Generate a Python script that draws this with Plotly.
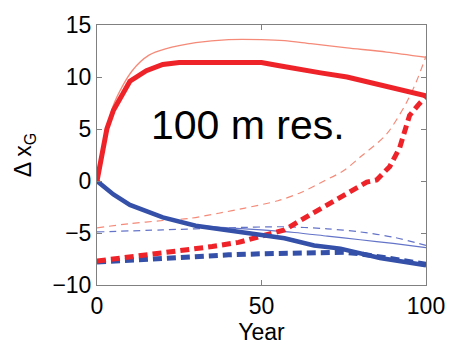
import plotly.graph_objects as go

# Thick red solid
red_thick_x = [0, 3, 5, 10, 15, 20, 25, 30, 40, 50, 55, 60, 68, 76, 86, 96, 100]
red_thick_y = [0, 5.0, 6.8, 9.6, 10.6, 11.2, 11.4, 11.4, 11.4, 11.4, 11.1, 10.8, 10.4, 10.0, 9.3, 8.5, 8.2]
# Thin red solid
red_thin_x = [0, 5, 10.7, 15.8, 20.8, 30, 40, 50, 57, 65, 76, 88, 100]
red_thin_y = [0, 7.3, 10.6, 12.1, 12.7, 13.3, 13.6, 13.6, 13.5, 13.2, 12.8, 12.4, 11.9]
# Thick red dashed
red_thickdash_x = [0, 10, 20, 28, 35, 43, 50, 57, 65, 74, 79, 82, 85, 89, 92, 95, 97.6, 100]
red_thickdash_y = [-7.7, -7.3, -7.0, -6.6, -6.3, -5.9, -5.3, -4.7, -3.2, -1.6, -0.6, -0.1, 0.1, 1.4, 3.2, 6.3, 7.3, 8.1]
# Thin red dashed
red_thindash_x = [0, 10, 20, 28, 37, 45, 55, 62, 69, 75, 80, 88, 94, 97, 100]
red_thindash_y = [-4.5, -4.1, -3.8, -3.6, -3.1, -2.6, -1.9, -1.1, 0.0, 1.0, 2.3, 4.5, 7.5, 9.5, 12.0]
# Thick blue solid
blue_thick_x = [0, 5, 10, 20, 30, 40, 50, 57, 66, 74, 86, 100]
blue_thick_y = [0, -1.3, -2.3, -3.5, -4.3, -4.8, -5.2, -5.5, -6.2, -6.5, -7.4, -8.1]
# Thin blue solid
blue_thin_x = [0, 5, 10, 20, 30, 40, 50, 60, 70, 80, 90, 100]
blue_thin_y = [0, -1.3, -2.3, -3.5, -4.25, -4.5, -4.7, -4.95, -5.3, -5.65, -6.0, -6.4]
# Thick blue dashed
blue_thickdash_x = [0, 10, 20, 30, 40, 50, 60, 75, 80, 90, 100]
blue_thickdash_y = [-7.8, -7.6, -7.4, -7.25, -7.1, -7.0, -6.9, -6.85, -7.0, -7.5, -8.0]
# Thin blue dashed
blue_thindash_x = [0, 20, 40, 57, 70, 80, 90, 100]
blue_thindash_y = [-4.9, -4.7, -4.5, -4.4, -4.6, -4.9, -5.4, -6.2]

RED = "#EE2229"
RED_L = "#F58A78"
BLUE = "#3450A8"
BLUE_L = "#6474C8"

fig = go.Figure()
def add(x, y, color, width, dash="solid", shape="linear"):
    fig.add_trace(go.Scatter(x=x, y=y, mode="lines",
                             line=dict(color=color, width=width, dash=dash, shape=shape, smoothing=0.8),
                             showlegend=False, hoverinfo="skip"))

add(red_thindash_x, red_thindash_y, RED_L, 1.2, "7px,5px", "spline")
add(blue_thindash_x, blue_thindash_y, BLUE_L, 1.2, "7px,5px", "spline")
add(blue_thin_x, blue_thin_y, BLUE_L, 1.2, "solid", "spline")
add(red_thin_x, red_thin_y, RED_L, 1.3, "solid", "spline")
add(blue_thickdash_x, blue_thickdash_y, BLUE, 5, "9px,5px")
add(red_thickdash_x, red_thickdash_y, RED, 5, "9px,5px")
add(blue_thick_x, blue_thick_y, BLUE, 4.5)
add(red_thick_x, red_thick_y, RED, 5)

FONT = "Liberation Sans, Arial"
fig.add_annotation(x=46, y=5.4, text="100 m res.", showarrow=False,
                   font=dict(size=41, color="black", family=FONT))

axis_common = dict(showgrid=False, zeroline=False, showline=True, linecolor="#808080",
                   linewidth=1, mirror="ticks", ticks="inside", ticklen=5,
                   tickcolor="#808080",
                   tickfont=dict(size=23, color="black", family=FONT))

fig.update_xaxes(range=[0, 100], tickvals=[0, 50, 100], ticktext=["0", "50", "100"],
                 title=dict(text="Year", font=dict(size=23, color="black", family=FONT), standoff=0),
                 **axis_common)
fig.update_yaxes(range=[-10, 15], tickvals=[-10, -5, 0, 5, 10, 15],
                 ticktext=["\u221210", "\u22125", "0", "5", "10", "15"],
                 title=dict(text="\u0394 x<sub>G</sub>", font=dict(size=23, color="black", family=FONT), standoff=14),
                 **axis_common)

fig.update_layout(width=457, height=347, margin=dict(l=97, r=24, t=17, b=55),
                  plot_bgcolor="white", paper_bgcolor="white")

fig.write_html("out.html")
